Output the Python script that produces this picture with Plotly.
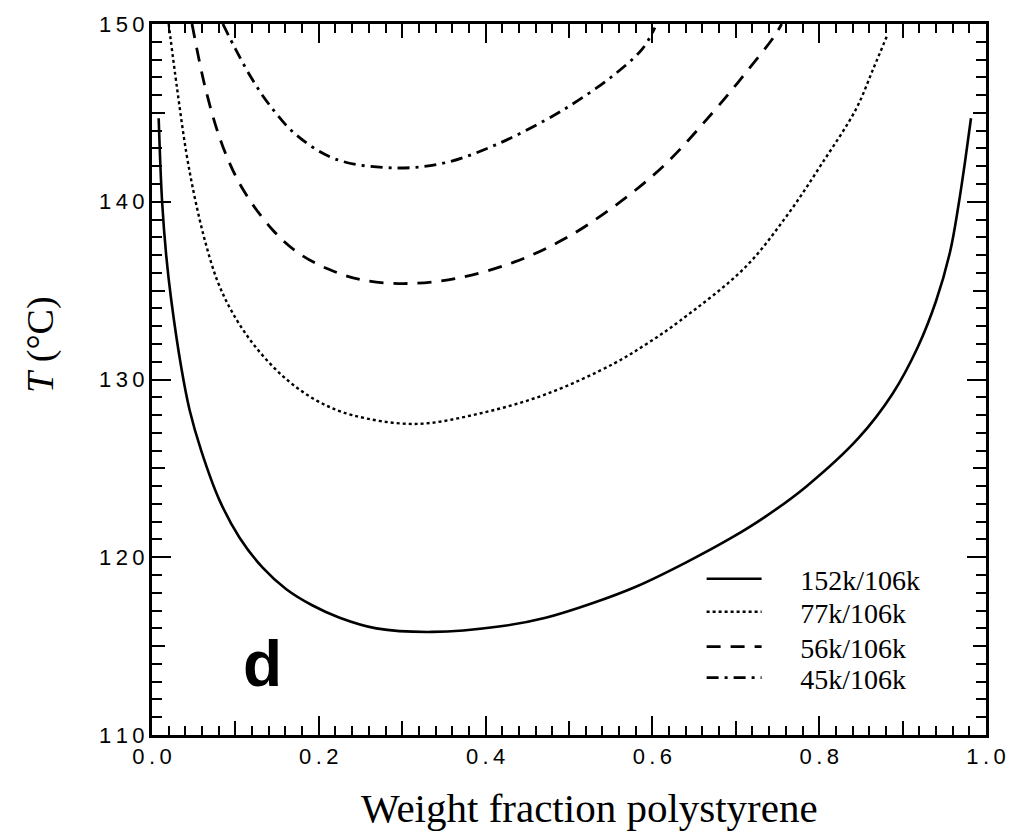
import plotly.graph_objects as go

# ---- data ----
x_152k = [0.008, 0.012, 0.017, 0.023, 0.035, 0.045, 0.059, 0.081, 0.105, 0.133, 0.161, 0.192,
          0.225, 0.269, 0.336, 0.416, 0.472, 0.527, 0.583, 0.640, 0.695, 0.736, 0.785, 0.847,
          0.888, 0.918, 0.940, 0.957, 0.967, 0.975, 0.982]
T_152k = [144.7, 140.1, 137.0, 134.5, 130.7, 128.3, 126.0, 123.2, 121.1, 119.4, 118.2, 117.3,
          116.6, 116.0, 115.8, 116.1, 116.6, 117.4, 118.4, 119.7, 121.1, 122.3, 124.0, 126.7,
          129.2, 131.8, 134.4, 137.2, 139.8, 142.3, 144.7]

x_77k = [0.020, 0.030, 0.041, 0.051, 0.063, 0.078, 0.096, 0.123, 0.159, 0.198, 0.240, 0.315,
         0.394, 0.474, 0.554, 0.593, 0.633, 0.711, 0.761, 0.804, 0.844, 0.865, 0.881]
T_77k = [150.0, 146.4, 142.8, 140.3, 137.9, 135.6, 133.8, 131.9, 130.1, 128.8, 128.0, 127.5,
         128.1, 129.2, 130.9, 132.0, 133.3, 136.3, 139.2, 142.2, 145.2, 147.5, 149.3]

x_56k = [0.048, 0.065, 0.085, 0.109, 0.145, 0.176, 0.212, 0.252, 0.306, 0.366, 0.434, 0.494,
         0.553, 0.613, 0.672, 0.711, 0.746, 0.755]
T_56k = [150.0, 146.2, 143.1, 140.7, 138.4, 137.1, 136.2, 135.6, 135.4, 135.7, 136.6, 137.9,
         139.7, 142.0, 145.0, 147.2, 149.3, 150.0]

x_45k = [0.085, 0.100, 0.120, 0.140, 0.172, 0.220, 0.292, 0.352, 0.412, 0.472, 0.511, 0.553,
         0.588, 0.603]
T_45k = [150.0, 148.6, 146.9, 145.5, 143.8, 142.4, 141.9, 142.2, 143.2, 144.6, 145.7, 147.1,
         148.6, 149.8]

series_names = ["152k/106k", "77k/106k", "56k/106k", "45k/106k"]
x_tick_vals = [0.0, 0.2, 0.4, 0.6, 0.8, 1.0]
x_tick_text = ["0.0", "0.2", "0.4", "0.6", "0.8", "1.0"]
y_tick_vals = [110, 120, 130, 140, 150]
y_tick_text = ["110", "120", "130", "140", "150"]

SP = "\u2009"
def spaced(s):
    return SP.join(list(s))

fig = go.Figure()
styles = [
    dict(dash="solid", width=2.6),
    dict(dash="dot", width=2.4),
    dict(dash="14px,10px", width=2.8),
    dict(dash="12px,6px,3px,6px", width=2.8),
]
legend_ids = ["legend", "legend2", "legend3", "legend4"]
legend_rows_y = [0.2194, 0.1730, 0.1238, 0.0802]

serif = "Liberation Serif, Times New Roman, serif"
sans = "Liberation Sans, Arial, sans-serif"
PAD = "\u2002\u2002\u2009"

for xs, ts, name, st, lg in zip([x_152k, x_77k, x_56k, x_45k],
                                [T_152k, T_77k, T_56k, T_45k], series_names, styles, legend_ids):
    fig.add_trace(go.Scatter(x=xs, y=ts, mode="lines", name=PAD + name, legend=lg,
                             line=dict(color="black", width=st["width"], dash=st["dash"],
                                       shape="spline", smoothing=1.0)))

tickfont = dict(family=sans, size=22, color="black")

legend_common = dict(x=0.659, xanchor="left", yanchor="middle",
                     bgcolor="rgba(0,0,0,0)", borderwidth=0,
                     font=dict(family=serif, size=28, color="black"),
                     itemwidth=55)

layout_legends = {}
for lg, yv in zip(legend_ids, legend_rows_y):
    layout_legends[lg] = dict(legend_common, y=yv)

fig.update_layout(
    width=1018, height=838,
    margin=dict(l=152, r=28, t=24, b=103),
    paper_bgcolor="white", plot_bgcolor="white",
    showlegend=True,
    xaxis=dict(range=[0, 1], tickmode="array", tickvals=x_tick_vals,
               ticktext=[spaced(t) for t in x_tick_text],
               ticks="inside", ticklen=19, tickwidth=2, tickcolor="black",
               minor=dict(dtick=0.02, ticks="inside", ticklen=9, tickwidth=2, tickcolor="black"),
               showline=True, linewidth=3, linecolor="black", mirror="allticks",
               showgrid=False, zeroline=False, tickfont=tickfont),
    yaxis=dict(range=[110, 150], tickmode="array", tickvals=y_tick_vals,
               ticktext=[spaced(t) for t in y_tick_text],
               ticks="inside", ticklen=19, tickwidth=2, tickcolor="black",
               minor=dict(dtick=1, ticks="inside", ticklen=10, tickwidth=2, tickcolor="black"),
               showline=True, linewidth=3, linecolor="black", mirror="allticks",
               showgrid=False, zeroline=False, tickfont=tickfont),
    xaxis2=dict(overlaying="x", matches="x", anchor="y", range=[0, 1], dtick=0.1, tick0=0,
                ticks="inside", ticklen=14, tickwidth=2, tickcolor="black",
                showticklabels=False, showgrid=False, zeroline=False, showline=False,
                mirror="allticks"),
    yaxis2=dict(overlaying="y", matches="y", anchor="x", range=[110, 150], dtick=5, tick0=110,
                ticks="inside", ticklen=13, tickwidth=2, tickcolor="black",
                showticklabels=False, showgrid=False, zeroline=False, showline=False,
                mirror="allticks"),
    **layout_legends,
)

# invisible trace to activate the overlay axes
fig.add_trace(go.Scatter(x=[0.5], y=[130], xaxis="x2", yaxis="y2", mode="markers",
                         marker=dict(opacity=0), showlegend=False, hoverinfo="skip"))

# axis titles
fig.add_annotation(text="Weight fraction polystyrene", xref="paper", yref="paper",
                   x=0.525, y=-0.103, xanchor="center", yanchor="middle", showarrow=False,
                   font=dict(family=serif, size=41, color="black"))
fig.add_annotation(text="<i>T</i> (°C)", xref="paper", yref="paper", textangle=-90,
                   x=-0.134, y=0.549, xanchor="center", yanchor="middle", showarrow=False,
                   font=dict(family=serif, size=38, color="black"))

fig.add_annotation(text="<b>d</b>", xref="paper", yref="paper", x=0.133, y=0.10,
                   xanchor="center", yanchor="middle", showarrow=False,
                   font=dict(family=sans, size=64, color="black"))

fig.write_html("out.html")
